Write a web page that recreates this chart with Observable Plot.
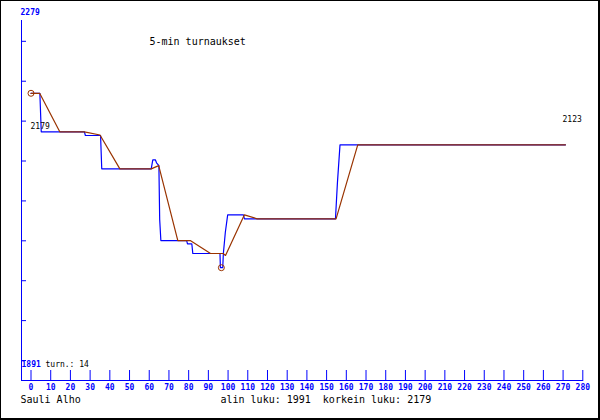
<!DOCTYPE html>
<html>
<head>
<meta charset="utf-8">
<script src="https://cdn.jsdelivr.net/npm/d3@7"></script>
<script src="https://cdn.jsdelivr.net/npm/@observablehq/plot@0.6"></script>
<style>
  html, body { margin: 0; padding: 0; background: #fff; }
  #wrap { position: relative; width: 600px; height: 420px; overflow: hidden; }
  #wrap svg { display: block; }
  #border { position: absolute; left: 0; top: 0; width: 600px; height: 420px; box-sizing: border-box;
            border-style: solid; border-color: #000; border-width: 1px 2px 2px 1px; pointer-events: none; }
</style>
</head>
<body>
<div id="wrap"><div id="border"></div></div>
<script>
// ---- data ----
const title = "5-min turnaukset";
const author = "Sauli Alho";
const lowLabel = "alin luku:";
const highLabel = "korkein luku:";
const lowValue = 1991;
const highValue = 2179;
const startValue = 2179;
const endValue = 2123;
const rounds = 14;
const yBottomLabel = 1891;
const yTopLabel = 2279;

// actual values (blue)
const blueT = [0, 4.5, 5.2, 27.1, 27.6, 35.3, 35.9, 61, 61.8, 63.1, 63.7, 64.9, 65.3, 65.9, 79, 79.4, 81.6, 82.1, 95.9, 96.1, 97.3, 97.6, 98.6, 99.8, 107.8, 108.3, 154.5, 155.5, 156.8, 271.2];
const blueV = [2179, 2179, 2137.5, 2137.5, 2133.5, 2133.5, 2097.6, 2097.6, 2107.3, 2107.3, 2104.1, 2101, 2043, 2020.3, 2020.3, 2016.8, 2016.8, 2006.3, 2006.3, 1991, 1991, 2006, 2029, 2048, 2048, 2043.7, 2043.7, 2083, 2123.4, 2123.4];

// smoothed values (brown)
const brownT = [0, 4.4, 14.6, 27.1, 35, 45.1, 61, 64.8, 74.5, 80.8, 91.1, 97.5, 98.7, 108.3, 114.8, 154.8, 165.8, 271.2];
const brownV = [2179, 2179, 2137.5, 2137.5, 2134, 2097.5, 2097.5, 2101, 2020.3, 2020.3, 2006.3, 2006.3, 2004.2, 2048, 2043.7, 2043.7, 2123.4, 2123.4];

// circled extremes
const markerT = [0, 96.6];
const markerV = [2179, 1991];

// axis ticks
const xTicks = [0, 10, 20, 30, 40, 50, 60, 70, 80, 90, 100, 110, 120, 130, 140, 150, 160, 170, 180, 190, 200, 210, 220, 230, 240, 250, 260, 270, 280];
const yTicks = [1891, 1934, 1977, 2020, 2063, 2106, 2149, 2192, 2235];

// ---- build ----
const blue = blueT.map((t, i) => ({t, v: blueV[i]}));
const brown = brownT.map((t, i) => ({t, v: brownV[i]}));
const markers = markerT.map((t, i) => ({t, v: markerV[i]}));

const BLUE = "#0000ff";
const BROWN = "#993300";
const MONO = "'DejaVu Sans Mono', 'Liberation Mono', monospace";

const chart = Plot.plot({
  width: 600,
  height: 420,
  marginLeft: 21,
  marginRight: 17.7,
  marginTop: 20,
  marginBottom: 40,
  style: {background: "white"},
  x: {domain: [0, 280], range: [30.5, 582.3], axis: null},
  y: {domain: [1891, 2279], range: [360, 0], axis: null},
  marks: [
    Plot.frame({anchor: "left", stroke: BLUE, strokeWidth: 1}),
    Plot.frame({anchor: "bottom", stroke: BLUE, strokeWidth: 1}),
    Plot.tickX(xTicks, {x: d => d, stroke: BLUE, insetTop: 350}),
    Plot.tickY(yTicks, {y: d => d, stroke: BLUE, insetRight: 556.3}),
    Plot.text(xTicks, {x: d => d, text: d => String(d), frameAnchor: "bottom", dy: 9,
      fill: BLUE, fontFamily: MONO, fontSize: 8, fontWeight: "bold"}),
    Plot.text([yTopLabel], {text: d => String(d), frameAnchor: "top-left", textAnchor: "start",
      dx: -1, dy: -11, fill: BLUE, fontFamily: MONO, fontSize: 8, fontWeight: "bold"}),
    Plot.text([yBottomLabel], {y: d => d, text: d => String(d), frameAnchor: "left", textAnchor: "start",
      dx: 0, dy: 4, fill: BLUE, fontFamily: MONO, fontSize: 8, fontWeight: "bold"}),
    Plot.text([rounds], {y: () => yBottomLabel, text: d => "turn.: " + d, frameAnchor: "left", textAnchor: "start",
      dx: 24, dy: 4, fill: "black", fontFamily: MONO, fontSize: 8}),
    Plot.text([title], {text: d => d, frameAnchor: "top-left", textAnchor: "start",
      dx: 128, dy: 17, fill: "black", fontFamily: MONO, fontSize: 10}),
    Plot.line(blue, {x: "t", y: "v", stroke: BLUE, strokeWidth: 1.2, curve: "linear"}),
    Plot.line(brown, {x: "t", y: "v", stroke: BROWN, strokeWidth: 1.2, curve: "linear"}),
    Plot.dot(markers, {x: "t", y: "v", r: 3, stroke: BROWN, fill: "none", strokeWidth: 1}),
    Plot.text([startValue], {x: () => 0, y: d => d, text: d => String(d), textAnchor: "start",
      dx: -0.5, dy: 33, fill: "black", fontFamily: MONO, fontSize: 8}),
    Plot.text([endValue], {y: d => d, text: d => String(d), frameAnchor: "right", textAnchor: "end",
      dx: -1, dy: -26, fill: "black", fontFamily: MONO, fontSize: 8}),
    Plot.text([author], {text: d => d, frameAnchor: "bottom-left", textAnchor: "start",
      dx: -1, dy: 22, fill: "black", fontFamily: MONO, fontSize: 10}),
    Plot.text([[lowValue, highValue]], {text: d => `${lowLabel} ${d[0]}\u00a0 ${highLabel} ${d[1]}`,
      frameAnchor: "bottom-left", textAnchor: "start",
      dx: 199, dy: 22, fill: "black", fontFamily: MONO, fontSize: 10})
  ]
});
document.getElementById("wrap").prepend(chart);
</script>
</body>
</html>
